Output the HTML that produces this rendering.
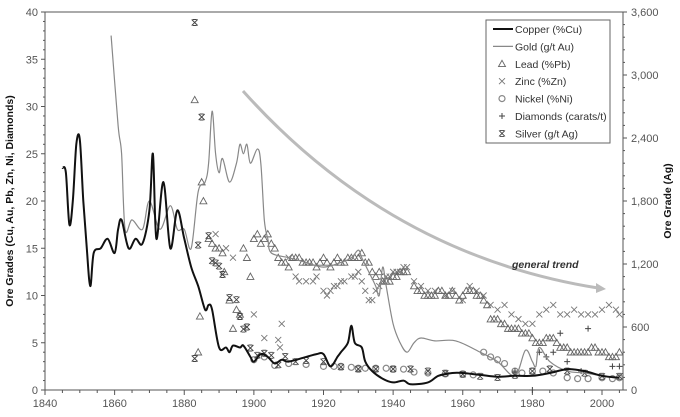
<!DOCTYPE html>
<html><head><meta charset="utf-8"><style>
html,body{margin:0;padding:0;background:#fff;width:680px;height:417px;overflow:hidden}
svg{font-family:"Liberation Sans",Arial,sans-serif}
</style></head><body>
<svg id="c" width="680" height="417" viewBox="0 0 680 417"></svg>
<script>
const xTicks=[1840,1860,1880,1900,1920,1940,1960,1980,2000];
const yTicksL=[0,5,10,15,20,25,30,35,40];
const yTicksR=[0,600,1200,1800,2400,3000,3600];
const copperYears=[1845,1846,1847,1848,1849,1850,1851,1852,1853,1854,1856,1858,1860,1861,1862,1864,1866,1868,1870,1871,1872,1874,1876,1878,1880,1882,1884,1886,1887,1888,1890,1892,1893,1894,1896,1897,1899,1900,1902,1904,1906,1908,1910,1915,1918,1920,1922,1924,1925,1927,1928,1929,1931,1932,1934,1937,1940,1943,1945,1950,1953,1957,1960,1965,1970,1975,1980,1985,1990,1995,2000,2005];
const copperVals=[23.5,23,17.5,20,26,26.5,20,15,11,14.5,15,16,14.5,17,18,15,16,15.5,19,25,16,22,15,19,16,13,11,8.5,9,8.5,4.5,4.5,4,4.7,4.5,4.7,3.5,3,3.8,3.5,2.8,3.2,3,3.5,3.8,3.8,2.5,3.5,4,5,6.8,5,4.5,3,2,1.2,0.8,1,0.6,0.8,1.5,1.8,1.8,1.6,1.4,1.5,1.5,1.8,2.2,2,1.5,1.3];
const goldYears=[1859,1861,1862,1863,1865,1868,1870,1873,1876,1878,1880,1882,1884,1886,1887,1888,1889,1890,1891,1893,1895,1896,1897,1898,1899,1901,1902,1903,1904,1905,1910,1915,1920,1925,1928,1930,1931,1933,1935,1936,1937,1938,1940,1942,1944,1946,1948,1952,1958,1965,1970,1975,1978,1980,1981,1982,1985,1990,1995,2000,2005];
const goldVals=[37.5,28,25,17,18,17,20,17,19.5,17,17,15,21,22,24,29.5,25,23,24.5,22,24,26,25,26,24,25.5,24,18,16,14.5,14,13.5,13,13.5,14,14.8,14,12.5,11,10,13,11,7,5,4,5,5.5,5.2,5.2,4,3,1.5,4.2,3,2.5,4.5,3,2,1.8,1.5,1.2];
const leadYears=[1883,1884,1884.5,1885,1885.5,1887,1888,1889,1890,1891,1891.5,1893,1894,1895,1896,1897,1898,1899,1900,1901,1902,1903,1904,1905,1906,1907,1908,1909,1910,1911,1912,1913,1914,1915,1916,1917,1918,1919,1920,1921,1922,1923,1924,1925,1926,1927,1928,1929,1930,1931,1932,1933,1934,1935,1936,1937,1938,1939,1940,1941,1942,1943,1944,1946,1947,1948,1949,1950,1951,1952,1953,1954,1955,1956,1957,1958,1959,1960,1961,1962,1963,1964,1965,1966,1967,1968,1969,1970,1971,1972,1973,1974,1975,1976,1977,1978,1979,1980,1981,1982,1983,1984,1985,1986,1987,1988,1989,1990,1991,1992,1993,1994,1995,1996,1997,1998,1999,2000,2001,2002,2003,2004,2005];
const leadVals=[30.7,4,7.8,22,20,16,15.5,15,15,14.5,12.5,9.5,6.5,8.5,8,15,14,12,16,16.5,15.5,16,16.5,15.5,15,14,13.5,13.5,13,14,14,14,13.5,13.5,13.5,13.5,13,13.5,14,13.5,13,13.5,14,13.5,13.5,14,14,14,14,14.5,13.5,13.5,12.5,12,12.5,11.5,11.5,11.5,12,12,12.5,12.5,12.5,11,10.5,10.5,10,10,10,10,10.5,10.5,10,10,10.5,10,9.5,10,10.5,10.5,10.5,10,10,9.5,9,7.5,7.5,7.5,7,7,6.5,6.5,6.5,6.5,6,6,6,5.5,5,5,5,5.5,5.5,5.5,5,4.5,4.5,4.5,4,4,4,4,4,4,4.5,4.5,4,4,4,3.5,3.5,3.5,4];
const zincYears=[1889,1892,1894,1900,1903,1907,1907.5,1908,1910,1912,1913,1915,1917,1918,1920,1921,1922,1923,1924,1925,1926,1928,1929,1930,1931,1932,1933,1934,1935,1936,1937,1938,1939,1940,1941,1942,1943,1944,1946,1948,1950,1952,1955,1957,1960,1962,1964,1966,1968,1970,1972,1974,1976,1978,1980,1982,1984,1986,1988,1990,1992,1994,1996,1998,2000,2002,2004,2005];
const zincVals=[16.5,15,14,8,5.5,5.3,4.5,7,14,12,11.5,11.5,11.5,12,10.5,10,10.5,11,11,11.5,11.5,12,12,12.5,11.5,10.5,9.5,9.5,10.5,11,11.5,12,12,12.5,12.5,12.5,13,13,11.5,11,10.5,10.5,10,10.5,9.5,11,10.5,10,9,8.5,9,8,7.5,7,7,8,8.5,9,8,8,8.5,8,8,8,8.5,9,8.5,8];
const nickelYears=[1900,1903,1906,1910,1915,1920,1923,1925,1928,1930,1932,1935,1938,1940,1943,1946,1950,1955,1960,1963,1966,1968,1970,1972,1975,1977,1980,1983,1986,1990,1993,1996,2000,2003,2005];
const nickelVals=[3.2,3.5,2.6,2.8,2.7,2.5,2.5,2.5,2.4,2.3,2.3,2.3,2.3,2.2,2.2,1.9,1.8,1.7,1.7,1.6,4,3.5,3.2,2.8,2,1.8,2,2,1.8,1.3,1.2,1.2,1.3,1.2,1.3];
const diamondYears=[1975,1980,1982,1984,1986,1988,1990,1994,1996,2003,2005];
const diamondVals=[2,0,4,3.5,4,6,3,2,6.5,2.5,2.5];
const silverYears=[1883,1883,1884,1885,1887,1888,1889,1890,1891,1893,1895,1896,1897,1898,1899,1901,1903,1905,1907,1909,1912,1915,1920,1925,1930,1935,1940,1945,1950,1955,1960,1965,1970,1975,1980,1985,1990,1995,2000,2005];
const silverVals=[3500,300,1380,2600,1470,1230,1210,1180,1100,880,860,700,580,600,400,330,350,330,240,320,270,280,270,220,200,200,200,200,180,160,150,130,120,140,180,200,180,160,130,130];

const L=45,R=623,T=12,B=390;
const X=y=>L+(y-1840)*(602-45)/160;
const Y=v=>B-v*(B-T)/40;
const YR=v=>B-v*(B-T)/3600;
const NS="http://www.w3.org/2000/svg";
const svg=document.getElementById('c');
function mk(tag,at,parent){const e=document.createElementNS(NS,tag);for(const k in at)e.setAttribute(k,at[k]);(parent||svg).appendChild(e);return e;}

const frame=mk('path',{d:`M${L},${B}V${T}H${R}V${B}H${L}`,fill:'none',stroke:'#555','stroke-width':1});


xTicks.forEach(t=>{
 const tx=mk('text',{x:X(t),y:B+17,'text-anchor':'middle','font-size':11,fill:'#555'});tx.textContent=t;
 
 
});
for(let yr=1840;yr<=2006;yr+=5){mk('line',{x1:X(yr),x2:X(yr),y1:B,y2:B+(yr%20==0?5:3),stroke:'#555'});}
yTicksL.forEach(t=>{
 const tx=mk('text',{x:L-7,y:Y(t)+4,'text-anchor':'end','font-size':11,fill:'#555'});tx.textContent=t;
 
 
});
for(let v=0;v<=40;v++){mk('line',{x1:L-(v%5==0?4:2),x2:L,y1:Y(v),y2:Y(v),stroke:'#555'});}
yTicksR.forEach(t=>{
 const tx=mk('text',{x:R+8,y:YR(t)+4,'font-size':11,fill:'#555'});tx.textContent=t.toLocaleString('en-US');
 
 
});
for(let v=0;v<=3600;v+=120){mk('line',{x1:R,x2:R+(v%600==0?4:2),y1:YR(v),y2:YR(v),stroke:'#555'});}

const lt=mk('text',{x:0,y:0,transform:`translate(13,${(T+B)/2}) rotate(-90)`,'text-anchor':'middle','font-size':10.5,'font-weight':'bold',fill:'#111'});
lt.textContent='Ore Grades (Cu, Au, Pb, Zn, Ni, Diamonds)';


const rt=mk('text',{x:0,y:0,transform:`translate(671,${(T+B)/2}) rotate(-90)`,'text-anchor':'middle','font-size':10.5,'font-weight':'bold',fill:'#111'});
rt.textContent='Ore Grade (Ag)';



const tr=mk('path',{d:`M243,91 Q390,255 598,288`,fill:'none',stroke:'#bbb','stroke-width':3});


mk('path',{d:'M596,283 L606,289 L596,293 Z',fill:'#bbb'});
const tt=mk('text',{x:512,y:268,'font-size':10.5,'font-weight':'bold','font-style':'italic',fill:'#333'});
tt.textContent='general trend';



function smooth(pts){
 let d=`M${pts[0][0].toFixed(1)},${pts[0][1].toFixed(1)}`;
 for(let i=0;i<pts.length-1;i++){
  const p0=pts[i-1]||pts[i],p1=pts[i],p2=pts[i+1],p3=pts[i+2]||p2;
  const c1=[p1[0]+(p2[0]-p0[0])/6,p1[1]+(p2[1]-p0[1])/6];
  const c2=[p2[0]-(p3[0]-p1[0])/6,p2[1]-(p3[1]-p1[1])/6];
  d+=`C${c1[0].toFixed(1)},${c1[1].toFixed(1)} ${c2[0].toFixed(1)},${c2[1].toFixed(1)} ${p2[0].toFixed(1)},${p2[1].toFixed(1)}`;
 }
 return d;
}
function line(ys,vs,color,w,name){
 const d=smooth(ys.map((y,i)=>[X(y),Y(vs[i])]));
 const p=mk('path',{d,fill:'none',stroke:color,'stroke-width':w,'stroke-linejoin':'round'});
 
 
}
function marker(type,x,y,g){
 const s=3.5;
 if(type=='tri')mk('path',{d:`M${x},${y-s}L${x+s},${y+s*0.8}L${x-s},${y+s*0.8}Z`,fill:'none',stroke:'#666','stroke-width':0.9},g);
 else if(type=='x')mk('path',{d:`M${x-3},${y-3}L${x+3},${y+3}M${x+3},${y-3}L${x-3},${y+3}`,stroke:'#777','stroke-width':0.9},g);
 else if(type=='o')mk('circle',{cx:x,cy:y,r:3,fill:'none',stroke:'#888','stroke-width':1.2},g);
 else if(type=='+')mk('path',{d:`M${x-3},${y}H${x+3}M${x},${y-3}V${y+3}`,stroke:'#444','stroke-width':1},g);
 else if(type=='*')mk('path',{d:`M${x-3},${y-3}L${x+3},${y+3}M${x+3},${y-3}L${x-3},${y+3}M${x-2},${y-3}H${x+2}M${x-2},${y+3}H${x+2}`,stroke:'#444','stroke-width':0.9},g);
}
function scatter(ys,vs,type,yf,name){
 const g=mk('g',{});
 
 
 ys.forEach((y,i)=>marker(type,X(y),yf(vs[i]),g));
}
scatter(nickelYears,nickelVals,'o',Y,'nickel-series');
scatter(zincYears,zincVals,'x',Y,'zinc-series');
scatter(leadYears,leadVals,'tri',Y,'lead-series');
scatter(diamondYears,diamondVals,'+',Y,'diamonds-series');
scatter(silverYears,silverVals,'*',YR,'silver-series');
line(goldYears,goldVals,'#888',1.2,'gold-line');
line(copperYears,copperVals,'#111',2,'copper-line');

const lg=mk('g',{});


mk('rect',{x:486,y:20,width:124,height:123,fill:'#fff',stroke:'#666','stroke-width':1},lg);
const items=[['Copper (%Cu)','l1'],['Gold (g/t Au)','l2'],['Lead (%Pb)','tri'],['Zinc (%Zn)','x'],['Nickel (%Ni)','o'],['Diamonds (carats/t)','+'],['Silver (g/t Ag)','*']];
items.forEach((it,i)=>{
 const y=29+i*17.4;
 const g=mk('g',{},lg);
 
 
 if(it[1]=='l1')mk('line',{x1:493,x2:513,y1:y,y2:y,stroke:'#111','stroke-width':2},g);
 else if(it[1]=='l2')mk('line',{x1:493,x2:513,y1:y,y2:y,stroke:'#888','stroke-width':1.2},g);
 else marker(it[1],502,y,g);
 const t=mk('text',{x:515,y:y+4,'font-size':10.5,fill:'#333'},g);t.textContent=it[0];
});
</script>
</body></html>
